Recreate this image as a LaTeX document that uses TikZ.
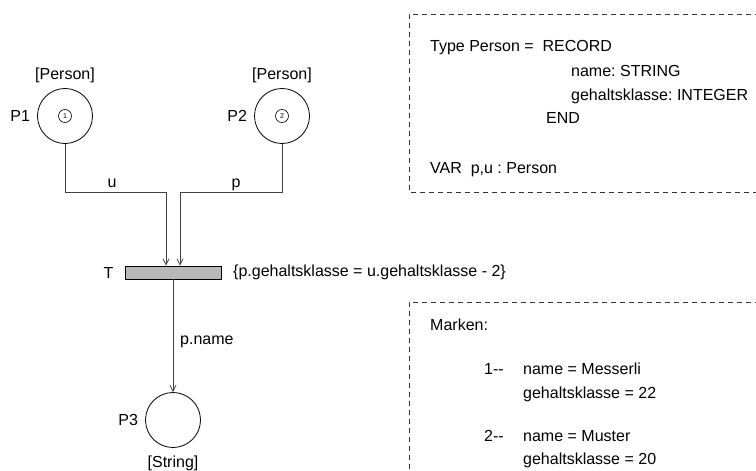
\documentclass[tikz,border=0pt]{standalone}
\usepackage{fontspec}
\setmainfont{Liberation Sans}
\usetikzlibrary{arrows.meta,positioning,calc}
\frenchspacing
\tikzset{
  place/.style={circle, draw=black, line width=0.8pt, minimum size=55pt, inner sep=0pt},
  token/.style={circle, draw=black, line width=0.6pt, minimum size=13pt, inner sep=0pt,
                font=\fontsize{7}{8}\selectfont},
  trans/.style={rectangle, draw=black, fill=black!28, line width=0.8pt,
                minimum width=96pt, minimum height=13pt, inner sep=0pt},
  arc/.style={-{Straight Barb[length=6pt,width=6pt]}, draw=black!75, line width=0.8pt},
  lbl/.style={inner sep=0pt},
  decl/.style={draw=black!80, dash pattern=on 5pt off 4pt, line width=0.8pt},
  txt/.style={inner sep=0pt, anchor=base west}
}
\begin{document}
\begin{tikzpicture}[x=1pt, y=-1pt, font=\fontsize{16}{19}\selectfont]
\useasboundingbox (0,0) rectangle (756,471);
\node[place] (P1) at (65,116) {};
\node[place] (P2) at (282,116) {};
\node[place] (P3) at (173,420) {};
\node[token] (t1) at (P1) {1};
\node[token] (t2) at (P2) {2};
\node[lbl, left=7pt of P1] (P1l) {P1};
\node[lbl, left=7pt of P2] (P2l) {P2};
\node[lbl, left=7pt of P3] (P3l) {P3};
\node[lbl, above=5pt of P1] (P1s) {[Person]};
\node[lbl, above=5pt of P2] (P2s) {[Person]};
\node[lbl, below=8pt of P3] (P3s) {[String]};
\node[trans] (T) at (173,272.5) {};
\node[lbl, left=11pt of T] (Tl) {T};
\node[lbl, anchor=west] (guard) at (233,272.5) {\{p.gehaltsklasse = u.gehaltsklasse - 2\}};
\coordinate (ubend) at (166,192);
\coordinate (pbend) at (180,192);
\draw[arc] (P1.south) |- (ubend) -- (ubend |- T.north);
\draw[arc] (P2.south) |- (pbend) -- (pbend |- T.north);
\draw[arc] (T.south) -- (P3.north);
\node[lbl, anchor=base] (u) at (112,187) {u};
\node[lbl, anchor=base] (p) at (236,187) {p};
\node[lbl, anchor=west] (pn) at (180,342) {p.name};
\draw[decl] (760,14) -| (409,192) -- (760,192);
\draw[decl] (760,302) -| (409,475);
\node[txt] (ty) at (430,52) {Type Person =\ \ RECORD};
\foreach \t/\x/\y in {name: STRING/571/76, gehaltsklasse: INTEGER/571/100,
                      END/546/123.5, VAR\ \ p{,}u : Person/430/173,
                      Marken:/430/330.5,
                      1-{}-/484/374.5, name = Messerli/523/374.5, gehaltsklasse = 22/523/398.5,
                      2-{}-/484/441, name = Muster/523/441, gehaltsklasse = 20/523/464.5}
  \node[txt] at (\x,\y) {\t};
\end{tikzpicture}
\end{document}
